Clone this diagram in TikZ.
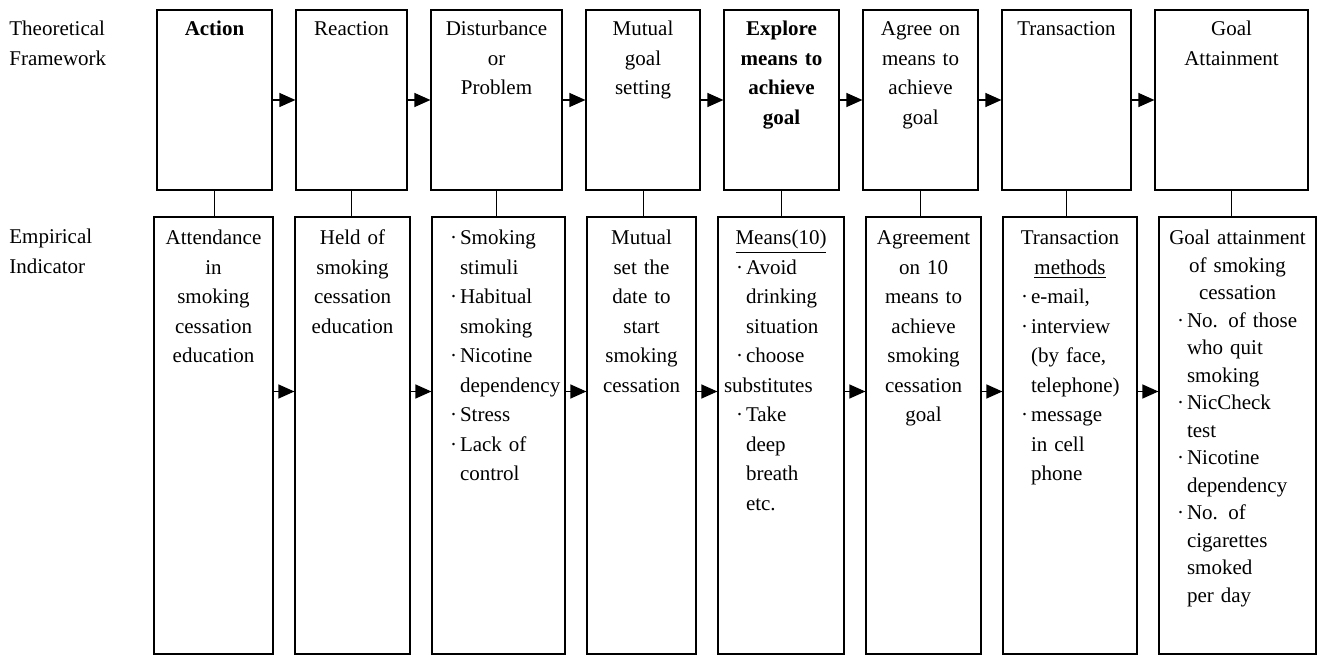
\documentclass[tikz,border=0pt]{standalone}
\usepackage{fontspec}
\setmainfont{Liberation Serif}
\usetikzlibrary{chains,positioning,arrows.meta}
\hyphenpenalty=10000
\newcommand\itm{\hspace*{6pt}\makebox[5pt][l]{·}}
\newcommand\cnt{\hspace*{11pt}}
\newcommand\ctr[1]{\makebox[\hsize]{#1}}
\tikzset{
  concept/.style={ % box of the theoretical framework
    draw, line width=0.6pt, align=center,
    inner xsep=3pt, inner ysep=4pt,
    text height=9pt, text depth=73pt, text width=#1
  },
  indicator/.style={ % box of an empirical indicator
    draw, line width=0.6pt, align=center,
    inner xsep=3pt, inner ysep=4pt,
    text height=10pt, text depth=200.5pt, text width=#1
  },
  flow/.style={
    -{Triangle[length=8pt,width=7pt]}, line width=0.6pt
  },
  link/.style={
    line width=0.5pt
  },
  side/.style={
    anchor=north west, inner sep=0pt, align=left
  }
}
\begin{document}
\begin{tikzpicture}[
      start chain=top going right, node distance=11.4pt,
      font=\fontsize{10.5pt}{14.75pt}\selectfont
    ]
      \useasboundingbox (0,0) rectangle (663.5pt,-328.5pt);

      \node[concept=51.5pt,on chain=top] (action) at (107.25pt,-50pt) {\textbf{Action}};
      \node[concept=49.5pt,on chain=top] (reaction) {Reaction};
      \node[concept=59.5pt,on chain=top] (problem) {Disturbance\\or\\Problem};
      \node[concept=51pt,on chain=top] (goalset) {Mutual\\goal\\setting};
      \node[concept=51.5pt,on chain=top] (explore) {\textbf{Explore}\\\textbf{means to}\\\textbf{achieve}\\\textbf{goal}};
      \node[concept=51.5pt,on chain=top] (agree) {Agree on\\means to\\achieve\\goal};
      \node[concept=58.5pt,on chain=top] (transact) {Transaction};
      \node[concept=70.5pt,on chain=top] (attain) {Goal\\Attainment};

      \begin{scope}[start chain=low going right, node distance=10.4pt]
      \node[indicator=53.5pt,on chain=low] (action_ind) at (106.75pt,-217.75pt) {Attendance\\in\\smoking\\cessation\\education};
      \node[indicator=51.5pt,on chain=low] (reaction_ind) {Held of\\smoking\\cessation\\education};
      \node[indicator=60.5pt,on chain=low,align=left] (problem_ind) {\itm Smoking\\\cnt stimuli\\\itm Habitual\\\cnt smoking\\\itm Nicotine\\\cnt dependency\\\itm Stress\\\itm Lack of\\\cnt control};
      \node[indicator=48.5pt,on chain=low] (goalset_ind) {Mutual\\set the\\date to\\start\\smoking\\cessation};
      \node[indicator=57pt,on chain=low,align=left] (explore_ind) {\ctr{\underline{Means(10)}}\\\itm Avoid\\\cnt drinking\\\cnt situation\\\itm choose\\substitutes\\\itm Take\\\cnt deep\\\cnt breath\\\cnt etc.};
      \node[indicator=51.5pt,on chain=low] (agree_ind) {Agreement\\on 10\\means to\\achieve\\smoking\\cessation\\goal};
      \node[indicator=61pt,on chain=low,align=left] (transact_ind) {\ctr{Transaction}\\\ctr{\underline{methods}}\\\itm e-mail,\\\itm interview\\\cnt (by face,\\\cnt telephone)\\\itm message\\\cnt in cell\\\cnt phone};
      \node[indicator=72.5pt,on chain=low,align=left,font=\fontsize{10.5pt}{13.75pt}\selectfont] (attain_ind) {\ctr{Goal attainment}\\\ctr{of smoking}\\\ctr{cessation}\\\itm No. of those\\\cnt who quit\\\cnt smoking\\\itm NicCheck\\\cnt test\\\itm Nicotine\\\cnt dependency\\\itm No. of\\\cnt cigarettes\\\cnt smoked\\\cnt per day};
      \end{scope}

      \node[side] (frame_text) at (4.5pt,-10.3pt) {Theoretical\\Framework};
      \node[side] (ind_text) at (4.5pt,-114.3pt) {Empirical\\Indicator};

      % framework steps
      \path[flow] (action) edge (reaction);
      \path[flow] (reaction) edge (problem);
      \path[flow] (problem) edge (goalset);
      \path[flow] (goalset) edge (explore);
      \path[flow] (explore) edge (agree);
      \path[flow] (agree) edge (transact);
      \path[flow] (transact) edge (attain);

      % indicator steps
      \draw[flow] ([yshift=22pt]action_ind.east) -- ([yshift=22pt]reaction_ind.west);
      \draw[flow] ([yshift=22pt]reaction_ind.east) -- ([yshift=22pt]problem_ind.west);
      \draw[flow] ([yshift=22pt]problem_ind.east) -- ([yshift=22pt]goalset_ind.west);
      \draw[flow] ([yshift=22pt]goalset_ind.east) -- ([yshift=22pt]explore_ind.west);
      \draw[flow] ([yshift=22pt]explore_ind.east) -- ([yshift=22pt]agree_ind.west);
      \draw[flow] ([yshift=22pt]agree_ind.east) -- ([yshift=22pt]transact_ind.west);
      \draw[flow] ([yshift=22pt]transact_ind.east) -- ([yshift=22pt]attain_ind.west);

      % concept to indicator
      \draw[link] (action.south) -- (action.south |- action_ind.north);
      \draw[link] (reaction.south) -- (reaction.south |- reaction_ind.north);
      \draw[link] (problem.south) -- (problem.south |- problem_ind.north);
      \draw[link] (goalset.south) -- (goalset.south |- goalset_ind.north);
      \draw[link] (explore.south) -- (explore.south |- explore_ind.north);
      \draw[link] (agree.south) -- (agree.south |- agree_ind.north);
      \draw[link] (transact.south) -- (transact.south |- transact_ind.north);
      \draw[link] (attain.south) -- (attain.south |- attain_ind.north);
    \end{tikzpicture}
\end{document}
